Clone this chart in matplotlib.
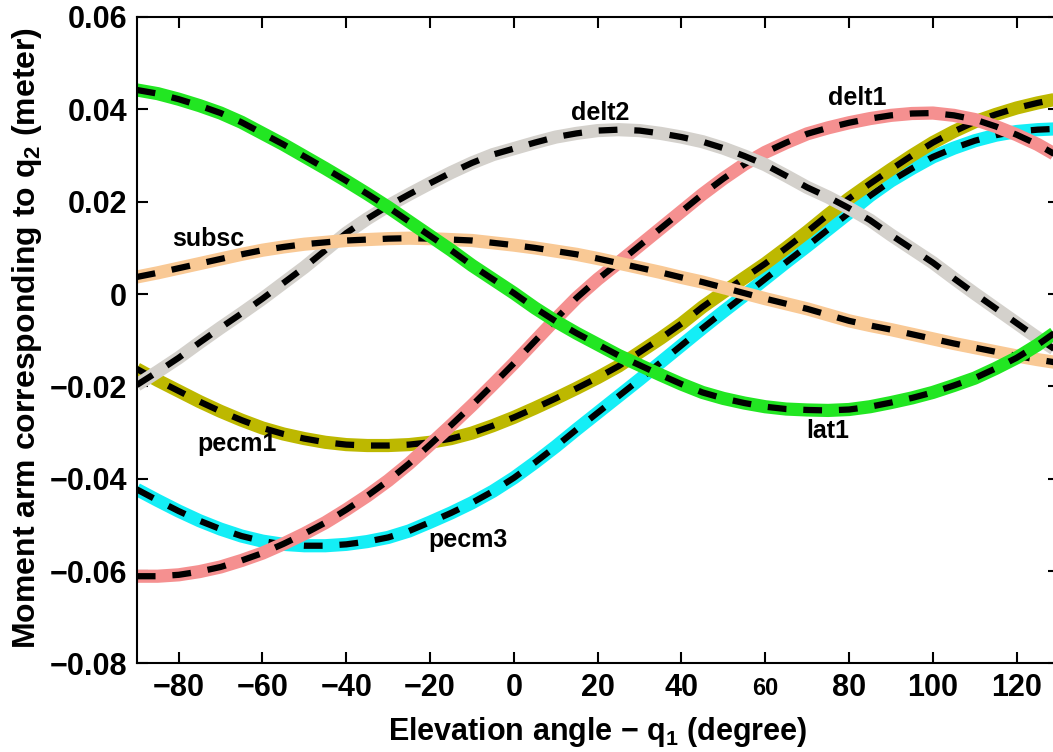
import numpy as np
import matplotlib
matplotlib.use('Agg')
import matplotlib.pyplot as plt
import matplotlib.transforms as mtransforms

plt.rcParams['font.family'] = ['Liberation Sans', 'DejaVu Sans']
plt.rcParams['font.weight'] = 'bold'
plt.rcParams['mathtext.fontset'] = 'custom'
plt.rcParams['mathtext.rm'] = 'Liberation Sans:bold'
plt.rcParams['mathtext.it'] = 'Liberation Sans:bold'
plt.rcParams['mathtext.bf'] = 'Liberation Sans:bold'

# elevation angle q1 (degree), every 5 degrees
q1 = list(range(-90, 131, 5))

# moment arms (meter)
lat1 = [0.0442, 0.0434, 0.0422, 0.0408, 0.0392, 0.0372, 0.0348, 0.0324, 0.0298, 0.0272, 0.0245, 0.0217,
        0.0188, 0.0157, 0.0126, 0.0095, 0.0062, 0.0032, 0.0002, -0.0030, -0.0059, -0.0085, -0.0109,
        -0.0133, -0.0154, -0.0175, -0.0195, -0.0213, -0.0226, -0.0236, -0.0244, -0.0249, -0.0251,
        -0.0252, -0.0250, -0.0244, -0.0235, -0.0225, -0.0213, -0.0198, -0.0182, -0.0161, -0.0138,
        -0.0110, -0.0078]
subsc = [0.0037, 0.0046, 0.0056, 0.0066, 0.0076, 0.0086, 0.0095, 0.0102, 0.0108, 0.0112, 0.0116, 0.0118,
         0.0120, 0.0121, 0.0120, 0.0118, 0.0116, 0.0111, 0.0106, 0.0100, 0.0093, 0.0086, 0.0077,
         0.0067, 0.0057, 0.0047, 0.0036, 0.0026, 0.0014, 0.0002, -0.0010, -0.0021, -0.0032,
         -0.0045, -0.0058, -0.0068, -0.0077, -0.0087, -0.0097, -0.0107, -0.0116, -0.0125, -0.0134,
         -0.0142, -0.0149]
delt2 = [-0.0197, -0.0168, -0.0138, -0.0105, -0.0073, -0.0042, -0.0010, 0.0024, 0.0058, 0.0095, 0.0132, 0.0163,
         0.0191, 0.0216, 0.0240, 0.0263, 0.0284, 0.0302, 0.0315, 0.0328, 0.0340, 0.0348, 0.0354,
         0.0356, 0.0354, 0.0348, 0.0340, 0.0330, 0.0316, 0.0299, 0.0280, 0.0256, 0.0231,
         0.0210, 0.0186, 0.0160, 0.0128, 0.0098, 0.0068, 0.0034, 0.0001, -0.0031, -0.0063,
         -0.0095, -0.0125]
delt1 = [-0.0611, -0.0611, -0.0608, -0.0601, -0.0591, -0.0577, -0.0561, -0.0541, -0.0519, -0.0495, -0.0467, -0.0437,
         -0.0404, -0.0367, -0.0326, -0.0284, -0.0241, -0.0196, -0.0150, -0.0102, -0.0054, -0.0008, 0.0032,
         0.0068, 0.0105, 0.0142, 0.0179, 0.0216, 0.0250, 0.0281, 0.0307, 0.0328, 0.0347,
         0.0360, 0.0371, 0.0380, 0.0387, 0.0391, 0.0392, 0.0387, 0.0378, 0.0363, 0.0345,
         0.0324, 0.0298]
pecm1 = [-0.0162, -0.0187, -0.0210, -0.0233, -0.0254, -0.0273, -0.0290, -0.0303, -0.0313, -0.0321, -0.0326, -0.0328,
         -0.0328, -0.0326, -0.0321, -0.0313, -0.0301, -0.0285, -0.0267, -0.0247, -0.0226, -0.0204, -0.0181,
         -0.0156, -0.0126, -0.0096, -0.0064, -0.0028, 0.0004, 0.0035, 0.0066, 0.0100, 0.0135,
         0.0172, 0.0207, 0.0239, 0.0270, 0.0300, 0.0328, 0.0352, 0.0373, 0.0389, 0.0403,
         0.0414, 0.0423]
pecm3 = [-0.0423, -0.0447, -0.0470, -0.0491, -0.0509, -0.0524, -0.0535, -0.0542, -0.0545, -0.0545, -0.0542, -0.0536,
         -0.0527, -0.0513, -0.0494, -0.0474, -0.0452, -0.0427, -0.0398, -0.0365, -0.0330, -0.0293, -0.0257,
         -0.0221, -0.0185, -0.0148, -0.0111, -0.0074, -0.0038, -0.0003, 0.0033, 0.0069, 0.0104,
         0.0140, 0.0176, 0.0213, 0.0245, 0.0272, 0.0297, 0.0316, 0.0332, 0.0344, 0.0352,
         0.0356, 0.0358]

series = [('pecm3', pecm3, '#14EEF6'),
          ('pecm1', pecm1, '#BDB800'),
          ('delt1', delt1, '#F59090'),
          ('delt2', delt2, '#D4D1CC'),
          ('subsc', subsc, '#F9C995'),
          ('lat1', lat1, '#22E622')]

# label positions (q1, value)
labels = {'delt2': (20.5, 0.0393), 'delt1': (82, 0.0425), 'subsc': (-73, 0.0120),
          'pecm1': (-66, -0.0325), 'pecm3': (-11, -0.0533), 'lat1': (75, -0.0297)}

fig = plt.figure(figsize=(10.53, 7.52), dpi=100)
ax = fig.add_axes([0.1299, 0.1177, 0.8754, 0.8597])

for name, y, c in series:
    ax.plot(q1, y, color=c, lw=9.5, solid_joinstyle='round', solid_capstyle='butt')
    ax.plot(q1, y, color='k', lw=4.5, dashes=(3.0, 2.7))

for name, (x, y) in labels.items():
    ax.text(x, y, name, fontsize=18, fontweight='bold', ha='center', va='center')

ax.set_xlim(-90, 130)
ax.set_ylim(-0.08, 0.06)
ax.set_xticks(range(-80, 121, 20))
ax.set_yticks([-0.08, -0.06, -0.04, -0.02, 0, 0.02, 0.04, 0.06])
ax.set_yticklabels(['\u22120.08', '\u22120.06', '\u22120.04', '\u22120.02', '0', '0.02', '0.04', '0.06'])
ax.tick_params(direction='in', length=8, width=1.5, top=True, right=True, labelsize=22, pad=7)
for lab in ax.get_xticklabels():
    lab.set_fontweight('bold')
    if lab.get_text() == '60':
        # the 60 label is printed smaller in the original
        lab.set_fontsize(17)
        lab.set_transform(lab.get_transform() +
                          mtransforms.ScaledTranslation(0, -2.5 / 72, fig.dpi_scale_trans))
for lab in ax.get_yticklabels():
    lab.set_fontweight('bold')
for s in ax.spines.values():
    s.set_linewidth(1.5)

ax.set_xlabel('Elevation angle \u2212 q$_{1}$ (degree)', fontsize=22, fontweight='bold')
ax.set_ylabel('Moment arm corresponding to q$_{2}$ (meter)', fontsize=23, fontweight='bold')
ax.xaxis.set_label_coords(0.5, -0.079)
ax.yaxis.set_label_coords(-0.1007, 0.504)

fig.savefig('out.png', dpi=100)
